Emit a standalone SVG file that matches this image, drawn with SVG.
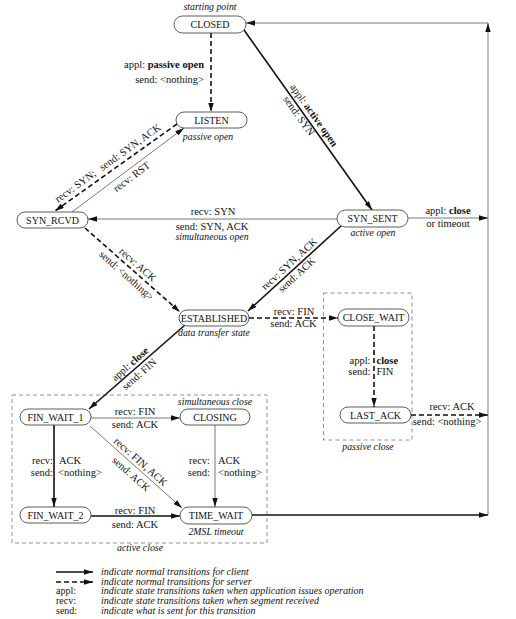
<svg xmlns="http://www.w3.org/2000/svg" width="516" height="619" viewBox="0 0 516 619">
<defs>
<marker id="ah" viewBox="0 0 10 6" refX="10" refY="3" markerWidth="9" markerHeight="5.4" markerUnits="userSpaceOnUse" orient="auto"><path d="M0,0 L10,3 L0,6 z" fill="#111"/></marker>
</defs>
<style>
.node rect{fill:#fff;stroke:#333;stroke-width:0.8}
.node text{font-family:"Liberation Serif","Times New Roman",serif;font-size:10px;text-anchor:middle;fill:#111}
text{font-family:"Liberation Serif","Times New Roman",serif;fill:#111}
.lbl{font-size:10.5px}
.m{text-anchor:middle}
.e{text-anchor:end}
.it{font-style:italic;font-size:9.8px;text-anchor:middle}
.b{font-weight:bold}
.thick{stroke:#111;stroke-width:1.6;fill:none}
.thin{stroke:#555;stroke-width:0.8;fill:none}
.dash{stroke:#111;stroke-width:1.6;stroke-dasharray:5 3;fill:none}
.box{stroke:#777;stroke-width:0.8;stroke-dasharray:4 3;fill:none}
.leg{font-style:italic;font-size:10px}
.legk{font-size:10px}
</style>
<rect width="516" height="619" fill="#fff"/>

<g id="groups">
<rect class="box" x="323.5" y="293" width="88.5" height="147"/>
<rect class="box" x="12" y="395" width="255" height="148"/>
<text class="it" x="368" y="450">passive close</text>
<text class="it" x="140" y="551">active close</text>
</g>

<g id="connectors">
<path class="dash" d="M211,33 L211,112" marker-end="url(#ah)"/>
<path class="thick" d="M244,30 L372,210" marker-end="url(#ah)"/>
<path class="dash" d="M177,124 L55,211" marker-end="url(#ah)"/>
<path class="thin" d="M72,212 L184,128" marker-end="url(#ah)"/>
<path class="thin" d="M337,219 L88,219" marker-end="url(#ah)"/>
<path class="thin" d="M408,218 L488,218" marker-end="url(#ah)"/>
<path class="dash" d="M85,228 L180,312" marker-end="url(#ah)"/>
<path class="thick" d="M341,226 L248,311" marker-end="url(#ah)"/>
<path class="dash" d="M249,318 L338,318" marker-end="url(#ah)"/>
<path class="thick" d="M185,325 L89,409" marker-end="url(#ah)"/>
<path class="dash" d="M374,326 L374,407" marker-end="url(#ah)"/>
<path class="dash" d="M411,415 L488,415" marker-end="url(#ah)"/>
<path class="thin" d="M91,418 L180,418" marker-end="url(#ah)"/>
<path class="thick" d="M54,425 L54,507" marker-end="url(#ah)"/>
<path class="thin" d="M90,426 L182,508" marker-end="url(#ah)"/>
<path class="thin" d="M215,425 L215,507" marker-end="url(#ah)"/>
<path class="thick" d="M91,516 L180,516" marker-end="url(#ah)"/>
<path class="thick" d="M252,515 L488,515" marker-end="url(#ah)"/>
<path class="thin" d="M488,515 L488,23" marker-end="url(#ah)"/>
<path class="thin" d="M488,23 L246,23" marker-end="url(#ah)"/>

<text class="lbl e" x="204" y="68">appl: <tspan class="b">passive open</tspan></text>
<text class="lbl e" x="204" y="83">send: &lt;nothing&gt;</text>

<g transform="translate(304.4,115) rotate(54.6)">
<text class="lbl m" x="5.8" y="-4.3">appl: <tspan class="b">active open</tspan></text>
<text class="lbl m" x="-2.5" y="8.5">send: SYN</text>
</g>

<g transform="translate(107.5,173.6) rotate(-35.5)">
<text class="lbl m" x="6.4" y="-5">recv: SYN;<tspan dx="7">send: SYN, ACK</tspan></text>
</g>

<g transform="translate(131.5,167.4) rotate(-36.9)">
<text class="lbl m" x="-5.5" y="11">recv: RST</text>
</g>

<text class="lbl m" x="213" y="215">recv: SYN</text>
<text class="lbl m" x="212" y="229.5">send: SYN, ACK</text>
<text class="it" x="212" y="239.5">simultaneous open</text>

<text class="lbl m" x="448" y="213.5">appl: <tspan class="b">close</tspan></text>
<text class="lbl m" x="448" y="226.5">or timeout</text>

<g transform="translate(137.5,274.4) rotate(41.5)">
<text class="lbl m" x="-6.2" y="-4">recv: ACK</text>
<text class="lbl m" x="-7.5" y="11.5">send: &lt;nothing&gt;</text>
</g>

<g transform="translate(289.5,273.1) rotate(-42.4)">
<text class="lbl m" x="6" y="-3.5">recv: SYN, ACK</text>
<text class="lbl m" x="4.2" y="9.5">send: ACK</text>
</g>

<text class="lbl m" x="294" y="315">recv: FIN</text>
<text class="lbl m" x="293.5" y="327">send: ACK</text>

<g transform="translate(130,373.1) rotate(-41.2)">
<text class="lbl m" x="6" y="-3.4">appl: <tspan class="b">close</tspan></text>
<text class="lbl m" x="6.2" y="10.3">send: FIN</text>
</g>

<text class="lbl e" x="370.5" y="363.5">appl:</text>
<text class="lbl b" x="376.5" y="363.5">close</text>
<text class="lbl e" x="370.5" y="374.5">send:</text>
<text class="lbl" x="376.5" y="374.5">FIN</text>

<text class="lbl m" x="452" y="410">recv: ACK</text>
<text class="lbl m" x="447" y="425">send: &lt;nothing&gt;</text>

<text class="lbl m" x="135" y="415">recv: FIN</text>
<text class="lbl m" x="135" y="427.5">send: ACK</text>

<text class="lbl e" x="53" y="464">recv:</text>
<text class="lbl" x="59" y="464">ACK</text>
<text class="lbl e" x="53" y="475.5">send:</text>
<text class="lbl" x="58" y="475.5">&lt;nothing&gt;</text>

<text class="lbl e" x="210" y="464">recv:</text>
<text class="lbl" x="218" y="464">ACK</text>
<text class="lbl e" x="210" y="475.5">send:</text>
<text class="lbl" x="218" y="475.5">&lt;nothing&gt;</text>

<g transform="translate(140,470.6) rotate(41.7)">
<text class="lbl m" x="-5.4" y="-3.5">recv: FIN, ACK</text>
<text class="lbl m" x="-4.3" y="12">send: ACK</text>
</g>

<text class="lbl m" x="135" y="513.5">recv: FIN</text>
<text class="lbl m" x="135" y="528">send: ACK</text>
</g>

<g id="CLOSED" class="node"><rect x="174" y="16" width="72" height="17" rx="8.5"/><text x="210" y="28">CLOSED</text></g>
<text class="it" x="210" y="10">starting point</text>
<g id="LISTEN" class="node"><rect x="176" y="112" width="71" height="16" rx="8"/><text x="211.5" y="123.5">LISTEN</text></g>
<text class="it" x="208" y="140">passive open</text>
<g id="SYN_RCVD" class="node"><rect x="17" y="212" width="71" height="16" rx="8"/><text x="52.5" y="223.5">SYN_RCVD</text></g>
<g id="SYN_SENT" class="node"><rect x="337" y="210" width="71" height="17" rx="8.5"/><text x="372.5" y="222">SYN_SENT</text></g>
<text class="it" x="373" y="236">active open</text>
<g id="ESTABLISHED" class="node"><rect x="179" y="310" width="70" height="16" rx="8"/><text x="214" y="321.5">ESTABLISHED</text></g>
<text class="it" x="214" y="336">data transfer state</text>
<g id="CLOSE_WAIT" class="node"><rect x="338" y="309" width="71" height="17" rx="8.5"/><text x="373.5" y="321">CLOSE_WAIT</text></g>
<g id="LAST_ACK" class="node"><rect x="340" y="407" width="71" height="16" rx="8"/><text x="375.5" y="418.5">LAST_ACK</text></g>
<g id="FIN_WAIT_1" class="node"><rect x="20" y="409" width="71" height="16" rx="8"/><text x="55.5" y="420.5">FIN_WAIT_1</text></g>
<g id="CLOSING" class="node"><rect x="180" y="409" width="70" height="16" rx="8"/><text x="215" y="420.5">CLOSING</text></g>
<text class="it" x="215" y="405">simultaneous close</text>
<g id="FIN_WAIT_2" class="node"><rect x="20" y="507" width="71" height="16" rx="8"/><text x="55.5" y="518.5">FIN_WAIT_2</text></g>
<g id="TIME_WAIT" class="node"><rect x="180" y="507" width="72" height="17" rx="8.5"/><text x="216" y="519">TIME_WAIT</text></g>
<text class="it" x="216" y="535">2MSL timeout</text>

<g id="legend">
<path class="thick" d="M56,572 L93,572" marker-end="url(#ah)"/>
<path class="dash" d="M56,582 L93,582" marker-end="url(#ah)"/>
<text class="leg" x="101" y="574.5">indicate normal transitions for client</text>
<text class="leg" x="101" y="584.5">indicate normal transitions for server</text>
<text class="legk" x="56" y="594">appl:</text>
<text class="leg" x="101" y="594">indicate state transitions taken when application issues operation</text>
<text class="legk" x="56" y="604">recv:</text>
<text class="leg" x="101" y="604">indicate state transitions taken when segment received</text>
<text class="legk" x="56" y="614">send:</text>
<text class="leg" x="101" y="614">indicate what is sent for this transition</text>
</g>
</svg>
